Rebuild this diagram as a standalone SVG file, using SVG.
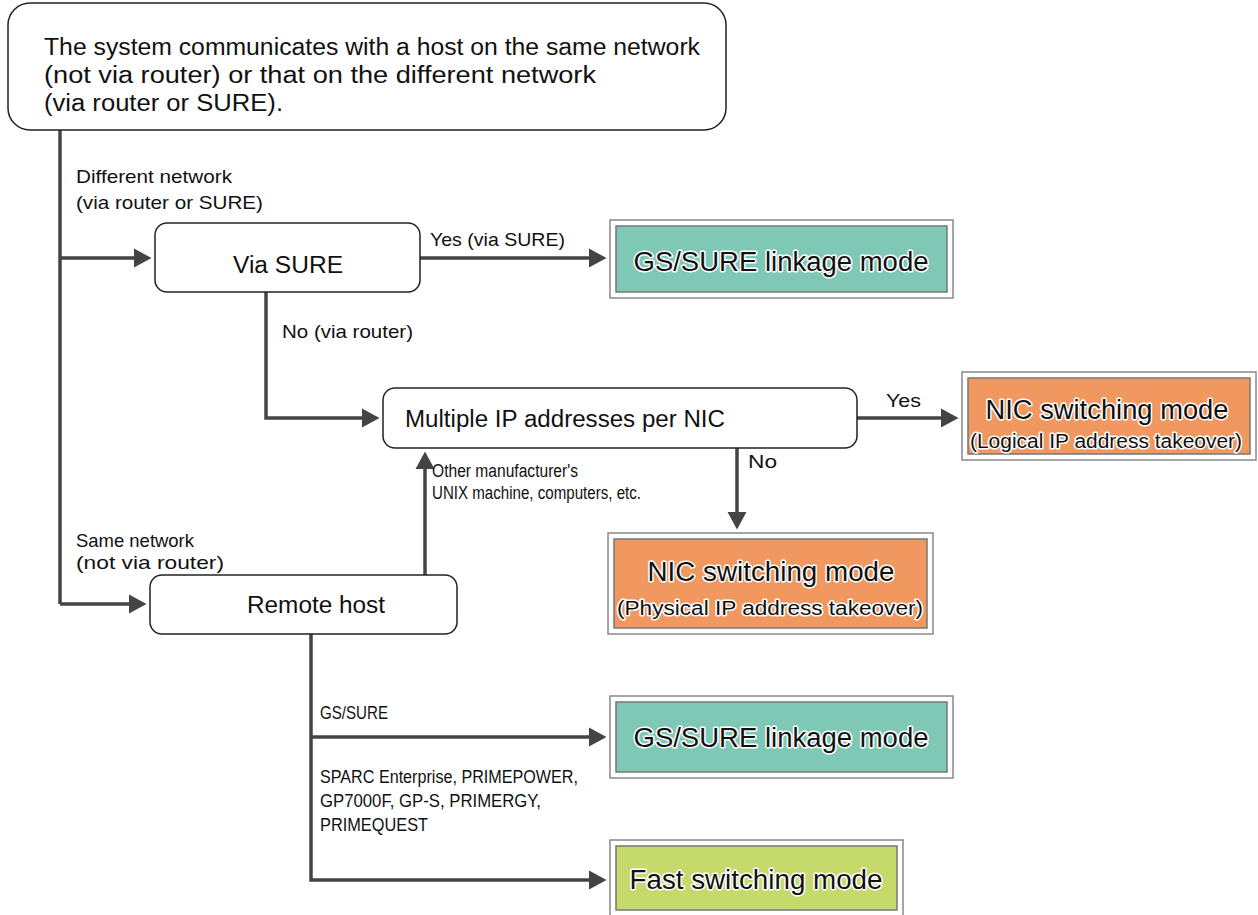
<svg xmlns="http://www.w3.org/2000/svg" width="1258" height="915" viewBox="0 0 1258 915">
<style>
.n{fill:#fff;stroke:#222;stroke-width:1.5}
.t{font-family:"Liberation Sans",Arial,sans-serif;fill:#111}
.lb{font-family:"Liberation Sans",Arial,sans-serif;font-size:19px;fill:#111}
.ls{font-family:"Liberation Sans",Arial,sans-serif;font-size:18px;fill:#111}
.ob{fill:#fff;stroke:#888;stroke-width:1.5}
.ib{stroke:#777;stroke-width:1.5}
.h{font-family:"Liberation Sans",Arial,sans-serif;fill:#111;stroke:#fff;stroke-width:3;paint-order:stroke;stroke-linejoin:round;text-anchor:middle}
.c{fill:none;stroke:#444;stroke-width:3.5}
</style>
<defs>
<marker id="a" markerWidth="6" markerHeight="6" refX="4" refY="3" orient="auto" markerUnits="strokeWidth"><path d="M0,0.3 L5,3 L0,5.7 Z" fill="#444"/></marker>
</defs>
<g id="connectors">
<path class="c" d="M60,130 V604"/>
<path class="c" d="M60,258 H148" marker-end="url(#a)"/>
<path class="c" d="M60,604 H143" marker-end="url(#a)"/>
<path class="c" d="M420,258 H603" marker-end="url(#a)"/>
<path class="c" d="M266,292 V418 H376" marker-end="url(#a)"/>
<path class="c" d="M857,418 H955" marker-end="url(#a)"/>
<path class="c" d="M737,448 V526" marker-end="url(#a)"/>
<path class="c" d="M425,575 V455" marker-end="url(#a)"/>
<path class="c" d="M311,634 V880 H603" marker-end="url(#a)"/>
<path class="c" d="M311,737 H603" marker-end="url(#a)"/>
<text class="lb" x="76" y="183" textLength="156" lengthAdjust="spacingAndGlyphs">Different network</text>
<text class="lb" x="76" y="209" textLength="187" lengthAdjust="spacingAndGlyphs">(via router or SURE)</text>
<text class="lb" x="430" y="246" textLength="135" lengthAdjust="spacingAndGlyphs">Yes (via SURE)</text>
<text class="lb" x="282" y="338" textLength="131" lengthAdjust="spacingAndGlyphs">No (via router)</text>
<text class="lb" x="886" y="407" textLength="35" lengthAdjust="spacingAndGlyphs">Yes</text>
<text class="lb" x="748" y="468" textLength="29" lengthAdjust="spacingAndGlyphs">No</text>
<text class="ls" x="432" y="477" textLength="146" lengthAdjust="spacingAndGlyphs">Other manufacturer's</text>
<text class="ls" x="432" y="499" textLength="209" lengthAdjust="spacingAndGlyphs">UNIX machine, computers, etc.</text>
<text class="lb" x="76" y="547" textLength="118" lengthAdjust="spacingAndGlyphs">Same network</text>
<text class="lb" x="76" y="569" textLength="148" lengthAdjust="spacingAndGlyphs">(not via router)</text>
<text class="ls" x="320" y="719" textLength="68" lengthAdjust="spacingAndGlyphs">GS/SURE</text>
<text class="ls" x="320" y="783" textLength="258" lengthAdjust="spacingAndGlyphs">SPARC Enterprise, PRIMEPOWER,</text>
<text class="ls" x="320" y="807" textLength="221" lengthAdjust="spacingAndGlyphs">GP7000F, GP-S, PRIMERGY,</text>
<text class="ls" x="320" y="831" textLength="108" lengthAdjust="spacingAndGlyphs">PRIMEQUEST</text>
</g>
<g id="start">
<rect class="n" x="8" y="3" width="718" height="127" rx="22"/>
<text class="t" font-size="23" x="44" y="55" textLength="656" lengthAdjust="spacingAndGlyphs">The system communicates with a host on the same network</text>
<text class="t" font-size="23" x="44" y="83" textLength="552" lengthAdjust="spacingAndGlyphs">(not via router) or that on the different network</text>
<text class="t" font-size="23" x="44" y="111" textLength="239" lengthAdjust="spacingAndGlyphs">(via router or SURE).</text>
</g>
<g id="via-sure">
<rect class="n" x="155" y="223" width="265" height="69" rx="12"/>
<text class="t" font-size="23" x="288" y="273" text-anchor="middle" textLength="110" lengthAdjust="spacingAndGlyphs">Via SURE</text>
</g>
<g id="gs-sure-1">
<rect class="ob" x="610" y="220" width="343" height="78"/>
<rect class="ib" x="616" y="226" width="331" height="66" fill="#7fc8b6"/>
<text class="h" font-size="27" x="781" y="271" textLength="295" lengthAdjust="spacingAndGlyphs">GS/SURE linkage mode</text>
</g>
<g id="multiple-ip">
<rect class="n" x="383" y="388" width="474" height="60" rx="12"/>
<text class="t" font-size="23" x="405" y="427" textLength="320" lengthAdjust="spacingAndGlyphs">Multiple IP addresses per NIC</text>
</g>
<g id="nic-logical">
<rect class="ob" x="962" y="372" width="294" height="88"/>
<rect class="ib" x="968" y="378" width="282" height="76" fill="#f0985f"/>
<text class="h" font-size="27" x="1107" y="419" textLength="243" lengthAdjust="spacingAndGlyphs">NIC switching mode</text>
<text class="h" font-size="20" x="1106" y="448" textLength="272" lengthAdjust="spacingAndGlyphs">(Logical IP address takeover)</text>
</g>
<g id="nic-physical">
<rect class="ob" x="608" y="533" width="325" height="101"/>
<rect class="ib" x="614" y="539" width="313" height="89" fill="#f0985f"/>
<text class="h" font-size="27" x="771" y="581" textLength="247" lengthAdjust="spacingAndGlyphs">NIC switching mode</text>
<text class="h" font-size="20" x="770" y="615" textLength="306" lengthAdjust="spacingAndGlyphs">(Physical IP address takeover)</text>
</g>
<g id="remote-host">
<rect class="n" x="150" y="575" width="307" height="59" rx="12"/>
<text class="t" font-size="23" x="316" y="613" text-anchor="middle" textLength="138" lengthAdjust="spacingAndGlyphs">Remote host</text>
</g>
<g id="gs-sure-2">
<rect class="ob" x="610" y="696" width="343" height="82"/>
<rect class="ib" x="616" y="702" width="331" height="70" fill="#7fc8b6"/>
<text class="h" font-size="27" x="781" y="747" textLength="295" lengthAdjust="spacingAndGlyphs">GS/SURE linkage mode</text>
</g>
<g id="fast-switching">
<rect class="ob" x="610" y="840" width="293" height="76"/>
<rect class="ib" x="616" y="846" width="281" height="64" fill="#c5da6a"/>
<text class="h" font-size="27" x="756" y="889" textLength="253" lengthAdjust="spacingAndGlyphs">Fast switching mode</text>
</g>
</svg>
